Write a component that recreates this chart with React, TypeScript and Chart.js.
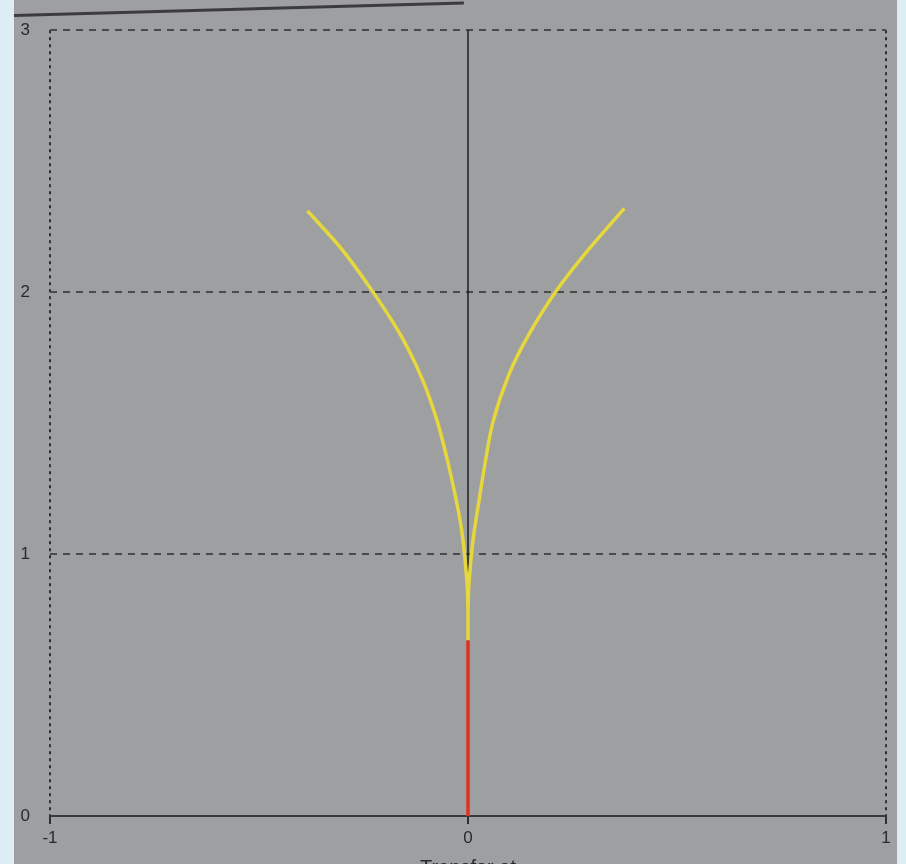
import React, { useEffect, useRef } from "react";
import { Chart, registerables } from "chart.js";

Chart.register(...registerables);

// Root-locus style branches
const redX = [0, 0];
const redY = [0, 0.67];

const leftX = [0, 0, -0.002, -0.006, -0.011, -0.018, -0.03, -0.051, -0.076, -0.11, -0.159, -0.227, -0.305, -0.384];
const leftY = [0.67, 0.8, 0.88, 0.96, 1.04, 1.12, 1.22, 1.37, 1.52, 1.67, 1.83, 2.0, 2.17, 2.31];

const rightX = [0, 0.002, 0.006, 0.011, 0.018, 0.028, 0.038, 0.059, 0.099, 0.146, 0.209, 0.287, 0.374];
const rightY = [0.8, 0.88, 0.96, 1.04, 1.12, 1.22, 1.32, 1.5, 1.69, 1.84, 2.0, 2.16, 2.32];

const xTicks = [-1, 0, 1];
const yTicks = [0, 1, 2, 3];
const xTitle = "Transfer at";

const pts = (xs: number[], ys: number[]) => xs.map((x, i) => ({ x, y: ys[i] }));

const zeroLines = {
  id: "zeroLines",
  beforeDatasetsDraw(chart: any) {
    const { ctx, scales } = chart;
    const xs = scales.x;
    const ys = scales.y;
    ctx.save();
    ctx.setLineDash([]);
    ctx.strokeStyle = "#3a3a3a";
    ctx.lineWidth = 2;
    ctx.beginPath();
    ctx.moveTo(xs.getPixelForValue(-1), ys.getPixelForValue(0));
    ctx.lineTo(xs.getPixelForValue(1), ys.getPixelForValue(0));
    ctx.stroke();
    ctx.strokeStyle = "#1e1e1e";
    ctx.lineWidth = 1.5;
    ctx.beginPath();
    ctx.moveTo(xs.getPixelForValue(0), ys.getPixelForValue(3));
    ctx.lineTo(xs.getPixelForValue(0), ys.getPixelForValue(0));
    ctx.stroke();
    ctx.restore();
  },
};

export default function App() {
  const ref = useRef<HTMLCanvasElement>(null);
  useEffect(() => {
    if (!ref.current) return;
    const font = { family: "'Liberation Sans', Arial, sans-serif", size: 17 };
    const chart = new Chart(ref.current, {
      type: "scatter",
      data: {
        datasets: [
          {
            data: pts(redX, redY),
            showLine: true,
            borderColor: "#e0321e",
            borderWidth: 3.5,
            pointRadius: 0,
          },
          {
            data: pts(leftX, leftY),
            showLine: true,
            borderColor: "#e6d83c",
            borderWidth: 3.5,
            pointRadius: 0,
            tension: 0.25,
          },
          {
            data: pts(rightX, rightY),
            showLine: true,
            borderColor: "#e6d83c",
            borderWidth: 3.5,
            pointRadius: 0,
            tension: 0.25,
          },
        ],
      },
      plugins: [zeroLines],
      options: {
        responsive: false,
        animation: false,
        layout: { padding: { left: 0, right: 20, top: 26, bottom: 0 } },
        plugins: { legend: { display: false }, tooltip: { enabled: false } },
        scales: {
          x: {
            type: "linear",
            min: -1,
            max: 1,
            afterBuildTicks: (s: any) => {
              s.ticks = xTicks.map((v) => ({ value: v }));
            },
            afterFit: (s: any) => {
              s.height = 64;
            },
            grid: {
              color: (c: any) => (c.tick && c.tick.value === 0 ? "rgba(0,0,0,0)" : "#2e2e2e"),
              lineWidth: 2,
              drawTicks: true,
              tickLength: 8,
              tickColor: "#2e2e2e",
              tickWidth: 2,
            },
            border: { display: false, dash: [3, 4] },
            ticks: { color: "#2a2a2a", font, padding: 4, maxRotation: 0 },
            title: {
              display: true,
              text: xTitle,
              color: "#2a2a2a",
              font: { family: "'Liberation Sans', Arial, sans-serif", size: 20 },
              padding: { top: 0, bottom: 0 },
            },
          },
          y: {
            type: "linear",
            min: 0,
            max: 3,
            afterBuildTicks: (s: any) => {
              s.ticks = yTicks.map((v) => ({ value: v }));
            },
            afterFit: (s: any) => {
              s.width = 50;
            },
            grid: {
              color: (c: any) => (c.tick && c.tick.value === 0 ? "rgba(0,0,0,0)" : "#4a4a4a"),
              lineWidth: 2,
              drawTicks: false,
            },
            border: { display: false, dash: [7, 6] },
            ticks: { color: "#2a2a2a", font, padding: 20 },
          },
        },
      },
    });
    return () => chart.destroy();
  }, []);

  return (
    <div
      style={{
        position: "absolute",
        left: 0,
        top: 0,
        width: 906,
        height: 864,
        overflow: "hidden",
        background: "#dcedf5",
      }}
    >
      <div
        style={{
          position: "absolute",
          left: 14,
          top: 0,
          width: 883,
          height: 864,
          background: "#9e9fa1",
        }}
      />
      <div
        style={{
          position: "absolute",
          left: 14,
          top: 14,
          width: 450,
          height: 3,
          background: "#3c3c3e",
          transform: "rotate(-1.6deg)",
          transformOrigin: "0 0",
        }}
      />
      <canvas ref={ref} width={906} height={880} style={{ position: "absolute", left: 0, top: 0 }} />
    </div>
  );
}
